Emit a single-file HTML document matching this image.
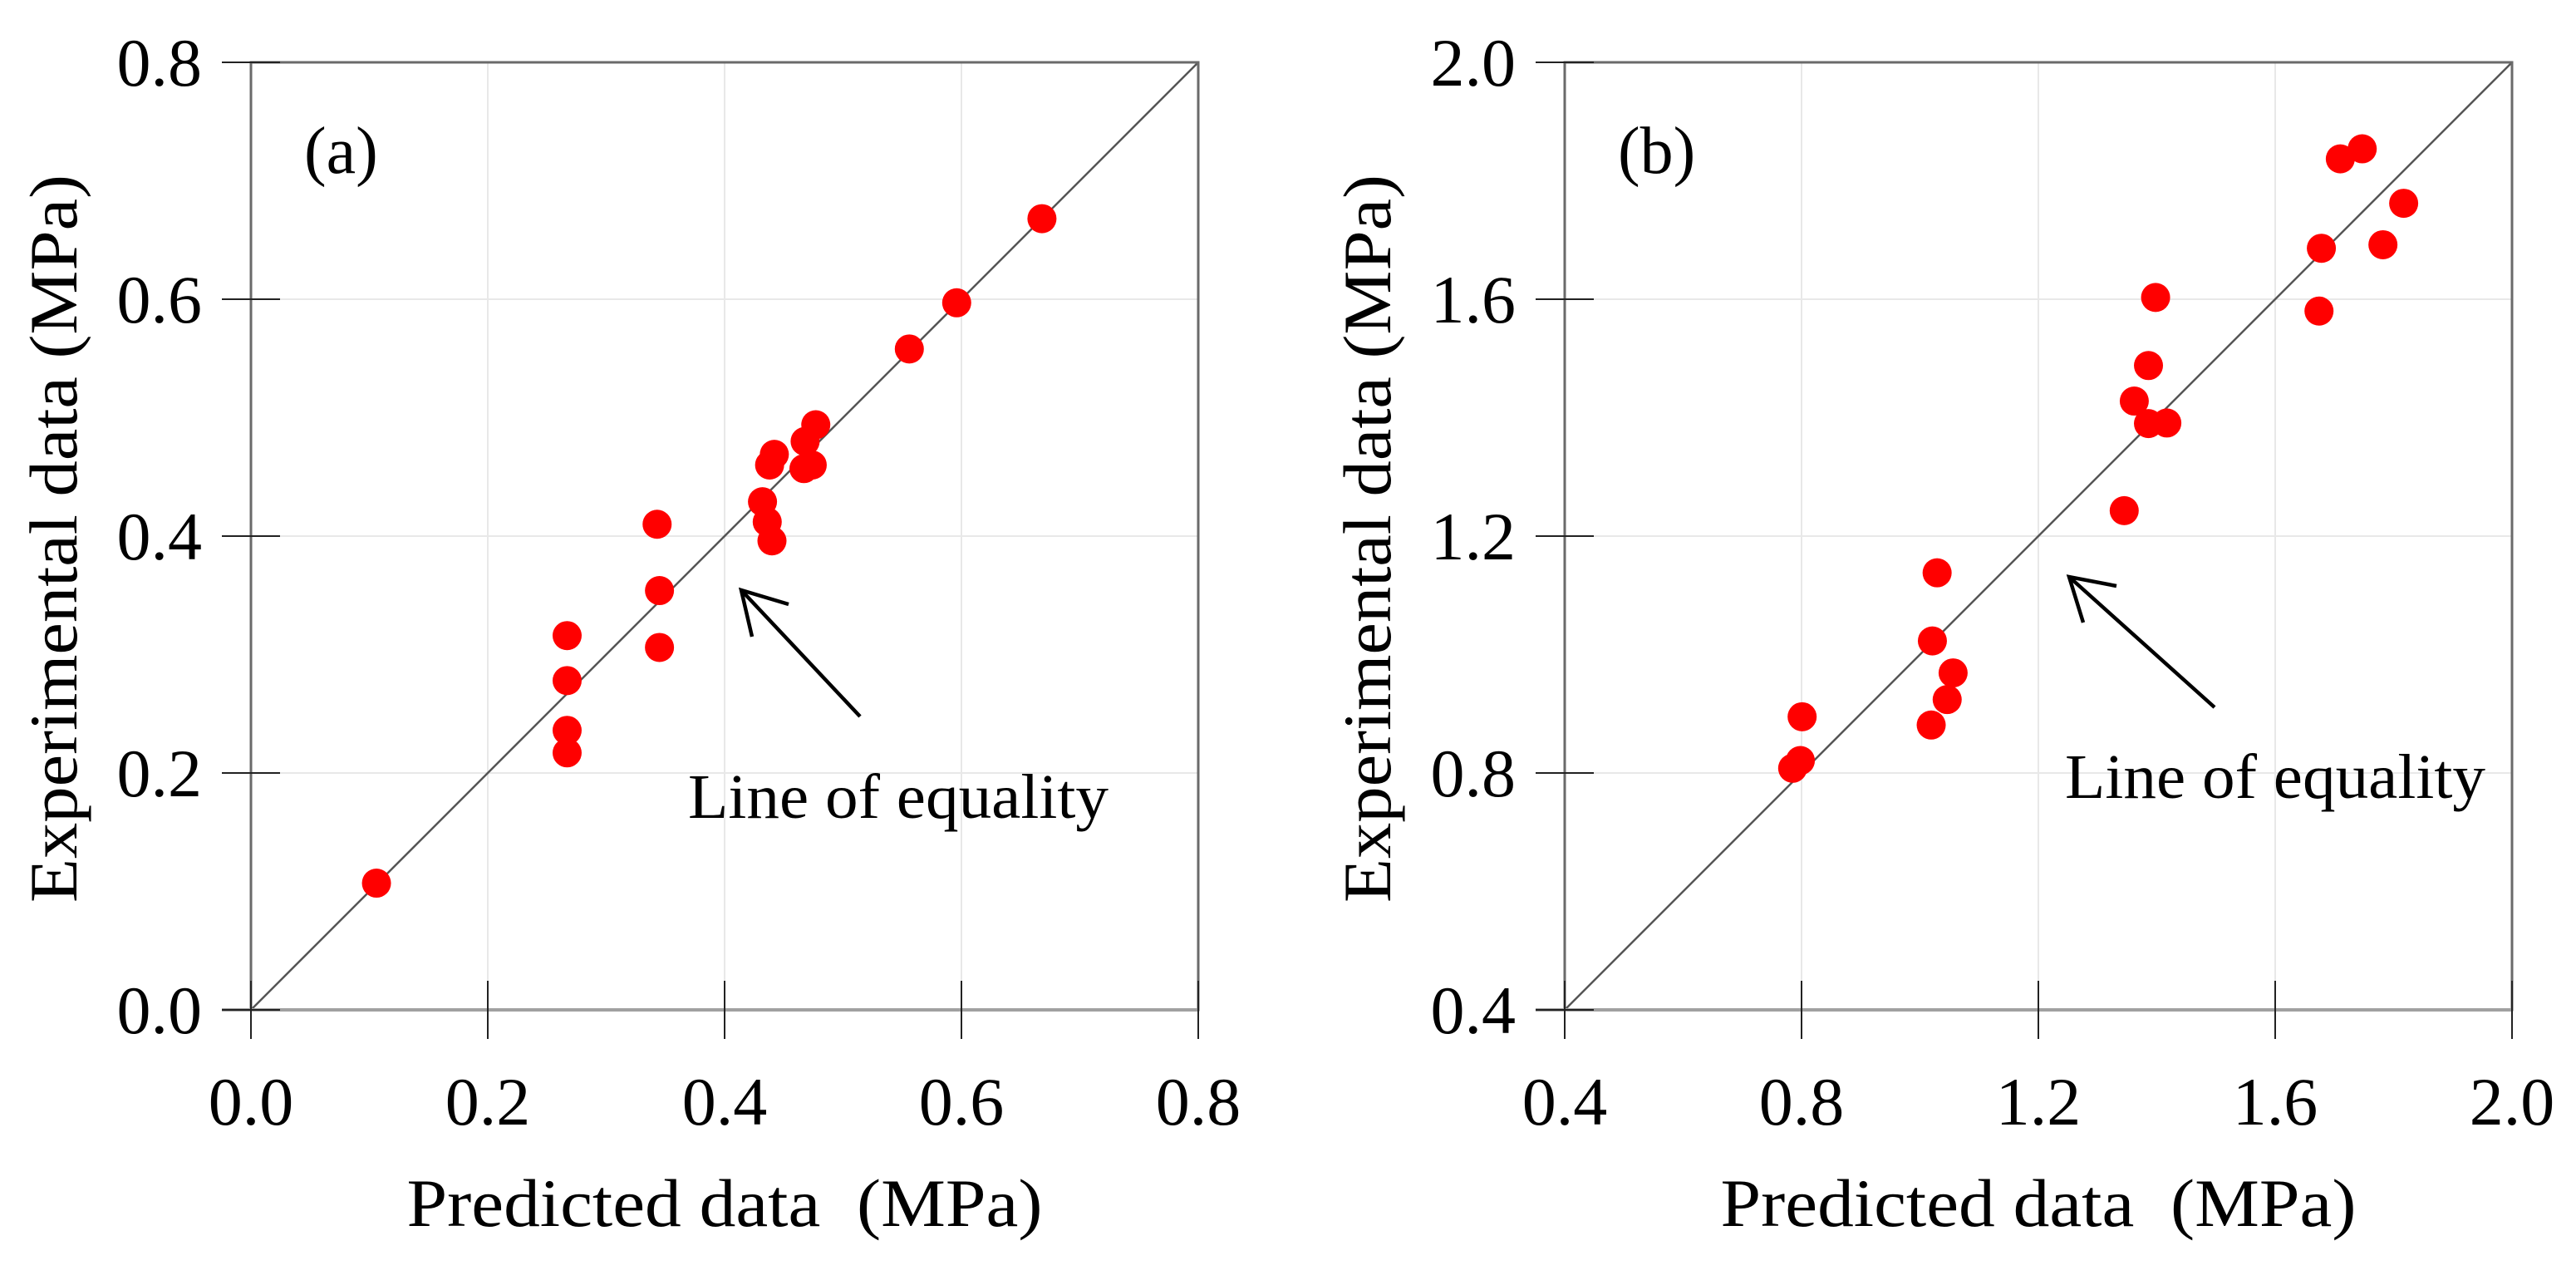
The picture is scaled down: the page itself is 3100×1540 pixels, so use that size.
<!DOCTYPE html>
<html><head><meta charset="utf-8"><style>
html,body{margin:0;padding:0;background:#fff;}
svg{display:block;}
text{font-family:"Liberation Serif",serif;fill:#000;}
</style></head><body>
<svg id="fig" width="3100" height="1540" viewBox="0 0 3100 1540" xmlns="http://www.w3.org/2000/svg"></svg>
<script>
// Panel (a) data
const aTicks = [0.0, 0.2, 0.4, 0.6, 0.8];
const aTickLabels = ["0.0", "0.2", "0.4", "0.6", "0.8"];
const aPredicted = [0.106, 0.267, 0.267, 0.267, 0.267, 0.343, 0.345, 0.345, 0.432, 0.436, 0.440, 0.438, 0.442, 0.467, 0.474, 0.468, 0.477, 0.556, 0.596, 0.668];
const aExperimental = [0.107, 0.316, 0.278, 0.236, 0.217, 0.410, 0.354, 0.306, 0.429, 0.412, 0.396, 0.460, 0.469, 0.457, 0.460, 0.480, 0.494, 0.558, 0.597, 0.668];
// Panel (b) data
const bTicks = [0.4, 0.8, 1.2, 1.6, 2.0];
const bTickLabels = ["0.4", "0.8", "1.2", "1.6", "2.0"];
const bPredicted = [1.747, 1.710, 1.817, 1.678, 1.782, 1.674, 1.398, 1.386, 1.362, 1.386, 1.417, 1.345, 1.029, 1.021, 1.056, 1.046, 1.019, 0.801, 0.798, 0.785];
const bExperimental = [1.854, 1.837, 1.762, 1.686, 1.692, 1.580, 1.603, 1.488, 1.428, 1.390, 1.391, 1.243, 1.138, 1.023, 0.969, 0.924, 0.881, 0.895, 0.821, 0.808];

const NS = "http://www.w3.org/2000/svg";
const svg = document.getElementById("fig");
function mk(tag, attrs, parent) {
  const e = document.createElementNS(NS, tag);
  for (const k in attrs) e.setAttribute(k, attrs[k]);
  (parent || svg).appendChild(e);
  return e;
}

function panel(opt) {
  const g = mk("g", {});
  
  
  const L = opt.left, T = 75, S = 1140, B = T + S, R = L + S;
  const mn = opt.min, mx = opt.max;
  const sx = v => L + (v - mn) / (mx - mn) * S;
  const sy = v => B - (v - mn) / (mx - mn) * S;
  opt.ticks.forEach((t, i) => {
    if (i > 0 && i < opt.ticks.length - 1) {
      const gx = mk("line", {x1: sx(t), x2: sx(t), y1: T, y2: B, stroke: "#e8e8e8", "stroke-width": 2}, g);
      
      
      const gy = mk("line", {x1: L, x2: R, y1: sy(t), y2: sy(t), stroke: "#e8e8e8", "stroke-width": 2}, g);
      
      
    }
  });
  const eq = mk("line", {x1: sx(mn), y1: sy(mn), x2: sx(mx), y2: sy(mx), stroke: "#555", "stroke-width": 2.5}, g);
  
  
  const fr = mk("rect", {x: L, y: T, width: S, height: S, fill: "none", stroke: "#6a6a6a", "stroke-width": 3}, g);
  
  
  const bx = mk("line", {x1: L - 35, x2: R, y1: B, y2: B, stroke: "#a0a0a0", "stroke-width": 4}, g);
  
  
  opt.ticks.forEach((t, i) => {
    const tx = mk("line", {x1: sx(t), x2: sx(t), y1: B - 35, y2: B + 35, stroke: "#222", "stroke-width": 2}, g);
    
    
    const ty = mk("line", {x1: L - 35, x2: L + 35, y1: sy(t), y2: sy(t), stroke: "#222", "stroke-width": 2}, g);
    
    
    const lx = mk("text", {x: sx(t), y: B + 138, "font-size": 82, "text-anchor": "middle"}, g);
    lx.textContent = opt.labels[i];
    
    
    const ly = mk("text", {x: L - 59, y: sy(t) + 28, "font-size": 82, "text-anchor": "end"}, g);
    ly.textContent = opt.labels[i];
    
    
  });
  opt.xs.forEach((v, i) => {
    const c = mk("circle", {cx: sx(v), cy: sy(opt.ys[i]), r: 17.5, fill: "#ff0000"}, g);
    
    
  });
  const pl = mk("text", {x: L + 64, y: 208, "font-size": 80}, g);
  pl.textContent = opt.tag;
  
  
  const a = opt.arrow;
  const ar = mk("path", {d: `M${a[0]},${a[1]} L${a[2]},${a[3]} M${a[4]},${a[5]} L${a[2]},${a[3]} L${a[6]},${a[7]}`, fill: "none", stroke: "#000", "stroke-width": 4.5}, g);
  
  
  const at = mk("text", {x: opt.annX, y: opt.annY, "font-size": 76, textLength: 506, lengthAdjust: "spacingAndGlyphs"}, g);
  at.textContent = "Line of equality";
  
  
  const xt = mk("text", {x: L + S / 2, y: 1475, "font-size": 82, "text-anchor": "middle", textLength: 765, lengthAdjust: "spacingAndGlyphs"}, g);
  xt.textContent = "Predicted data\u00a0 (MPa)";
  
  
  const yx = L - 210, yy = T + S / 2 + 3;
  const yt = mk("text", {x: yx, y: yy, "font-size": 82, "text-anchor": "middle", transform: `rotate(-90 ${yx} ${yy})`, textLength: 876, lengthAdjust: "spacingAndGlyphs"}, g);
  yt.textContent = "Experimental data (MPa)";
  
  
}

panel({name: "panel-a", tag: "(a)", left: 302, min: 0, max: 0.8, ticks: aTicks, labels: aTickLabels,
  xs: aPredicted, ys: aExperimental, arrow: [1035, 862, 892, 710, 949, 727, 905, 766], annX: 828, annY: 984});
panel({name: "panel-b", tag: "(b)", left: 1883, min: 0.4, max: 2.0, ticks: bTicks, labels: bTickLabels,
  xs: bPredicted, ys: bExperimental, arrow: [2665, 851, 2490, 694, 2547, 705, 2507, 749], annX: 2485, annY: 960});
</script>
</body></html>
